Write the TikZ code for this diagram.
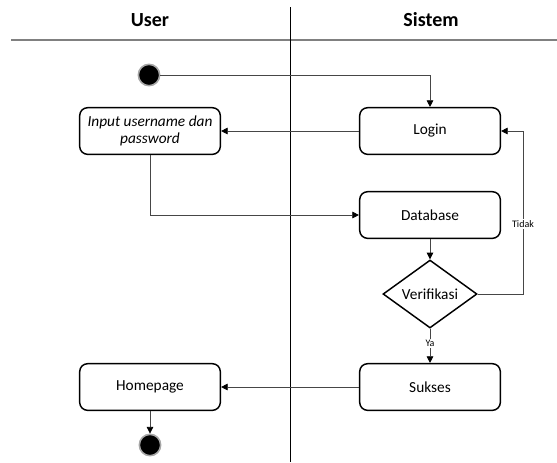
\documentclass[tikz,border=0pt]{standalone}
\usepackage{fontspec}
\setmainfont{Carlito}
\usetikzlibrary{shapes.geometric,arrows.meta}

\definecolor{linegray}{RGB}{70,70,70}

\begin{document}
\begin{tikzpicture}[
	x=0.75pt, y=-0.75pt,
	every node/.style = {font=\fontsize{11.5}{13}\selectfont},
	activity/.style = {shape=rectangle, draw, line width=1.1pt,
		rounded corners=6pt, align=center,
		minimum width=105.5pt, minimum height=35pt, inner sep=2pt},
	decision/.style = {shape=diamond, draw, line width=1.1pt, aspect=1.38,
		minimum width=70.5pt, minimum height=51pt, inner sep=0pt},
	startstate/.style = {shape=circle, fill=black, draw=gray!70,
		line width=1.2pt, minimum size=16pt, inner sep=0pt},
	lane/.style = {font=\fontsize{15}{17}\selectfont\bfseries},
	flow/.style = {draw=linegray, line width=0.6pt,
		-{Triangle[length=5pt,width=5pt,fill=black,color=black]}},
	guard/.style = {font=\fontsize{7.5}{9}\selectfont, fill=white, inner sep=1pt}]
	\useasboundingbox (0,0) rectangle (557,462);

	% swimlanes
	\draw[gray, line width=1.2pt] (11,40) -- (557,40);
	\draw[line width=0.5pt] (290,7) -- (290,462);
	\node[lane] (user) at (150,20) {User};
	\node[lane] (sistem) at (431,20) {Sistem};

	% nodes
	\node[startstate] (start) at (149,75) {};
	\node[activity] (input) at (150,131) {\itshape Input username dan\\ \itshape password};
	\node[activity] (login) at (430,131) {Login};
	\node[activity] (db) at (430,215) {Database};
	\node[decision] (verif) at (430,294) {Verifikasi};
	\node[activity] (sukses) at (430,387) {Sukses};
	\node[activity] (home) at (150,387) {Homepage};
	\node[startstate] (end) at (150,445) {};

	\coordinate (loopb) at (523,294);
	\coordinate (loopt) at (523,131);

	% connectors
	\draw[flow] (start) -| (login);
	\draw[flow] (login) -- (input);
	\draw[flow] (input) |- (db);
	\draw[flow] (db) -- (verif);
	\draw[flow] (verif.east) -- (loopb) -- node[guard, pos=0.43] {Tidak} (loopt) -- (login.east);
	\draw[flow] (verif.south) -- node[guard, pos=0.42] {Ya} (sukses.north);
	\draw[flow] (sukses) -- (home);
	\draw[flow] (home) -- (end);
\end{tikzpicture}
\end{document}
